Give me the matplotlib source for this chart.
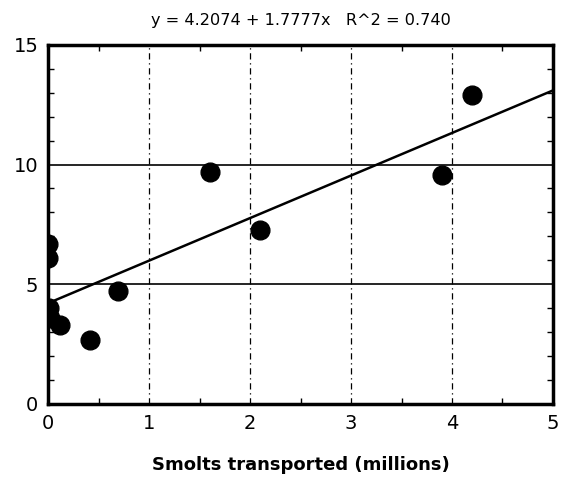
import matplotlib.pyplot as plt
from matplotlib.ticker import MultipleLocator
import numpy as np

# smolts transported (millions) vs adult return
smolts = [0.0, 0.0, 0.01, 0.02, 0.12, 0.41, 0.69, 1.6, 2.1, 3.9, 4.2]
returns = [6.7, 6.1, 4.0, 3.6, 3.3, 2.65, 4.7, 9.7, 7.25, 9.55, 12.9]

intercept = 4.2074
slope = 1.7777
r2 = 0.740

xticks = [0, 1, 2, 3, 4, 5]
yticks = [0, 5, 10, 15]

fig = plt.figure(figsize=(5.66, 4.82), dpi=100)
ax = fig.add_axes([0.085, 0.162, 0.892, 0.745])

for yv in [5, 10]:
    ax.axhline(yv, color="black", linewidth=1.2, zorder=1)
for xv in [1, 2, 3, 4]:
    ax.axvline(xv, color="black", linewidth=0.9, linestyle="-.", dashes=(5, 3, 1, 3), zorder=1)

xl = np.array([0, 5])
ax.plot(xl, intercept + slope * xl, color="black", linewidth=1.8, zorder=2)
ax.plot(smolts, returns, "o", color="black", markersize=13.5, zorder=3, clip_on=True)

ax.set_xlim(0, 5)
ax.set_ylim(0, 15)
ax.set_xticks(xticks)
ax.set_yticks(yticks)
ax.xaxis.set_minor_locator(MultipleLocator(0.5))
ax.yaxis.set_minor_locator(MultipleLocator(1))
ax.tick_params(which="both", direction="in", top=True, right=True, labelsize=14, pad=7)
ax.tick_params(which="major", length=0)
ax.tick_params(which="minor", length=4, width=1)
for s in ax.spines.values():
    s.set_linewidth(2.5)

ax.set_title(f"y = {intercept} + {slope}x   R^2 = {r2:.3f}", fontsize=11.6, pad=14)
ax.set_xlabel("Smolts transported (millions)", fontsize=13, fontweight="bold", labelpad=17)

plt.savefig("out.png", dpi=100)
